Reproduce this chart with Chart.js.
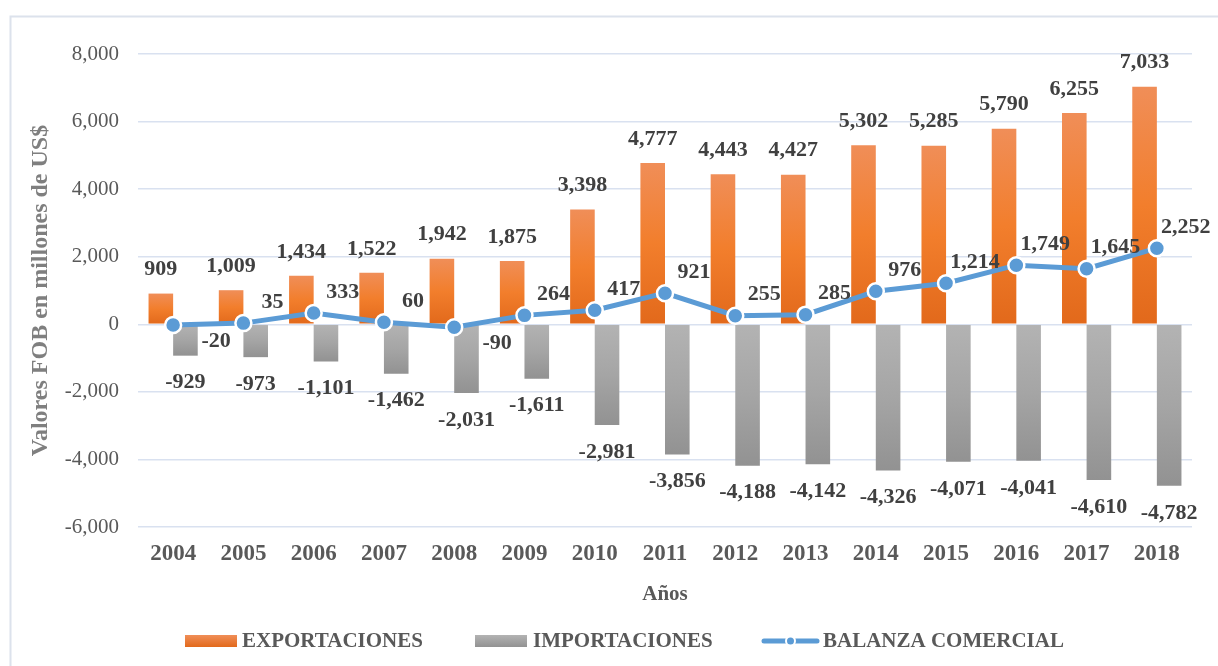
<!DOCTYPE html>
<html>
<head>
<meta charset="utf-8">
<script src="https://cdn.jsdelivr.net/npm/chart.js@4/dist/chart.umd.min.js"></script>
<style>
  html, body { margin: 0; padding: 0; background: #ffffff; }
  #wrap { width: 1218px; height: 666px; position: relative; }
</style>
</head>
<body>
<div id="wrap"><canvas id="c" width="1218" height="666"></canvas></div>
<script>
const years = ['2004','2005','2006','2007','2008','2009','2010','2011','2012','2013','2014','2015','2016','2017','2018'];
const exportaciones = [909, 1009, 1434, 1522, 1942, 1875, 3398, 4777, 4443, 4427, 5302, 5285, 5790, 6255, 7033];
const importaciones = [-929, -973, -1101, -1462, -2031, -1611, -2981, -3856, -4188, -4142, -4326, -4071, -4041, -4610, -4782];
const balanza = [-20, 35, 333, 60, -90, 264, 417, 921, 255, 285, 976, 1214, 1749, 1645, 2252];
const seriesNames = ['EXPORTACIONES', 'IMPORTACIONES', 'BALANZA COMERCIAL'];
const yTitle = 'Valores FOB en millones de US$';
const xTitle = 'Años';

const SERIF = "'Liberation Serif', 'Times New Roman', serif";
const fmt = v => v.toLocaleString('en-US');

function barGradient(c, stops) {
  const chart = c.chart;
  const area = chart.chartArea;
  if (!area || c.type !== 'data' || !chart.scales.y) return stops[1];
  const ys = chart.scales.y;
  const p0 = ys.getPixelForValue(0);
  const p1 = ys.getPixelForValue(c.raw);
  const a = Math.min(p0, p1), b = Math.max(p0, p1);
  if (!isFinite(a) || !isFinite(b) || b - a < 1) return stops[1];
  const g = chart.ctx.createLinearGradient(0, a, 0, b);
  g.addColorStop(0, stops[0]);
  g.addColorStop(0.5, stops[1]);
  g.addColorStop(1, stops[2]);
  return g;
}
const orangeStops = ['#F08E58', '#F27E2C', '#E2691B'];
const grayStops = ['#B3B3B3', '#A5A5A5', '#929292'];

const framePlugin = {
  id: 'frame',
  beforeDraw(chart) {
    const ctx = chart.ctx;
    ctx.save();
    ctx.fillStyle = '#ffffff';
    ctx.fillRect(0, 0, chart.width, chart.height);
    ctx.strokeStyle = '#DCE2EC';
    ctx.lineWidth = 2;
    ctx.strokeRect(10.5, 16.5, 1230, 700);
    ctx.restore();
  }
};

const labelPlugin = {
  id: 'valueLabels',
  afterDatasetsDraw(chart) {
    const ctx = chart.ctx;
    ctx.save();
    ctx.font = "bold 22px " + SERIF;
    ctx.fillStyle = '#404040';
    ctx.textBaseline = 'middle';
    ctx.textAlign = 'center';
    const mExp = chart.getDatasetMeta(1);
    mExp.data.forEach((el, i) => {
      ctx.fillText(fmt(exportaciones[i]), el.x, el.y - 24);
    });
    const mImp = chart.getDatasetMeta(2);
    mImp.data.forEach((el, i) => {
      ctx.fillText(fmt(importaciones[i]), el.x, el.y + 27);
    });
    const mBal = chart.getDatasetMeta(0);
    mBal.data.forEach((el, i) => {
      const v = balanza[i];
      if (v >= 0) ctx.fillText(fmt(v), el.x + 29, el.y - 21);
      else ctx.fillText(fmt(v), el.x + 43, el.y + 16);
    });
    ctx.restore();
  }
};

const legendPlugin = {
  id: 'customLegend',
  afterDraw(chart) {
    const ctx = chart.ctx;
    const cy = 641;
    ctx.save();
    ctx.font = "bold 21px " + SERIF;
    ctx.fillStyle = '#595959';
    ctx.textBaseline = 'middle';
    ctx.textAlign = 'left';
    let g = ctx.createLinearGradient(0, cy - 6, 0, cy + 6);
    g.addColorStop(0, orangeStops[0]); g.addColorStop(1, orangeStops[2]);
    ctx.fillStyle = g;
    ctx.fillRect(185, cy - 6, 52, 12);
    ctx.fillStyle = '#595959';
    ctx.fillText(seriesNames[0], 242, cy + 1);
    g = ctx.createLinearGradient(0, cy - 6, 0, cy + 6);
    g.addColorStop(0, grayStops[0]); g.addColorStop(1, grayStops[2]);
    ctx.fillStyle = g;
    ctx.fillRect(475, cy - 6, 52, 12);
    ctx.fillStyle = '#595959';
    ctx.fillText(seriesNames[1], 533, cy + 1);
    ctx.strokeStyle = '#5B9BD5';
    ctx.lineWidth = 5;
    ctx.lineCap = 'round';
    ctx.beginPath(); ctx.moveTo(764, cy); ctx.lineTo(817, cy); ctx.stroke();
    ctx.beginPath(); ctx.arc(790.5, cy, 4.5, 0, Math.PI * 2);
    ctx.fillStyle = '#5B9BD5'; ctx.fill();
    ctx.lineWidth = 2; ctx.strokeStyle = '#ffffff'; ctx.stroke();
    ctx.fillStyle = '#595959';
    ctx.fillText(seriesNames[2], 823, cy + 1);
    ctx.restore();
  }
};

const chart = new Chart(document.getElementById('c'), {
  type: 'bar',
  data: {
    labels: years,
    datasets: [
      {
        type: 'line',
        label: seriesNames[2],
        data: balanza,
        order: 0,
        borderColor: '#5B9BD5',
        borderWidth: 5,
        tension: 0,
        pointRadius: 8,
        pointBackgroundColor: '#5B9BD5',
        pointBorderColor: '#ffffff',
        pointBorderWidth: 2.5,
        fill: false
      },
      {
        label: seriesNames[0],
        data: exportaciones,
        order: 1,
        backgroundColor: c => barGradient(c, orangeStops),
        categoryPercentage: 0.7,
        barPercentage: 1.0
      },
      {
        label: seriesNames[1],
        data: importaciones,
        order: 1,
        backgroundColor: c => barGradient(c, grayStops),
        categoryPercentage: 0.7,
        barPercentage: 1.0
      }
    ]
  },
  options: {
    responsive: false,
    animation: false,
    devicePixelRatio: 1,
    layout: { padding: { left: 18, right: 26, top: 54, bottom: 59 } },
    plugins: {
      legend: { display: false },
      tooltip: { enabled: false }
    },
    scales: {
      x: {
        grid: { display: false, drawTicks: false },
        border: { display: false },
        ticks: {
          color: '#595959',
          font: { family: SERIF, size: 23, weight: 'bold' },
          padding: 13,
          maxRotation: 0,
          autoSkip: false
        },
        title: {
          display: true,
          text: xTitle,
          color: '#595959',
          font: { family: SERIF, size: 21, weight: 'bold' },
          padding: { top: 0, bottom: 0 }
        },
        afterFit(scale) { scale.height = 80; }
      },
      y: {
        min: -6000,
        max: 8000,
        grid: { color: '#D9E1F0', lineWidth: 1.5, drawTicks: false },
        border: { display: false },
        ticks: {
          stepSize: 2000,
          color: '#595959',
          font: { family: SERIF, size: 21 },
          padding: 19,
          callback: v => fmt(v)
        },
        title: {
          display: true,
          text: yTitle,
          color: '#7F7F7F',
          font: { family: SERIF, size: 24, weight: 'bold' },
          padding: { top: 8, bottom: 0 }
        },
        afterFit(scale) { scale.width = 120; }
      }
    }
  },
  plugins: [framePlugin, labelPlugin, legendPlugin]
});
</script>
</body>
</html>
